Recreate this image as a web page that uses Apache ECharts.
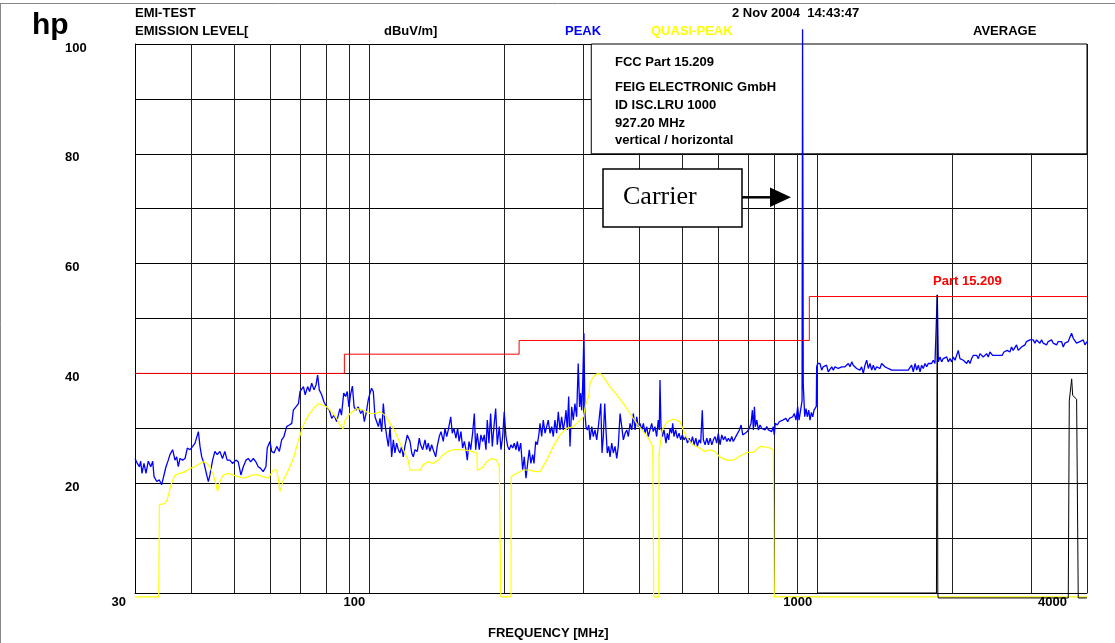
<!DOCTYPE html>
<html>
<head>
<meta charset="utf-8">
<script src="https://cdn.jsdelivr.net/npm/echarts@6/dist/echarts.min.js"></script>
<style>
html, body { margin: 0; padding: 0; background: #fff; }
#main { width: 1115px; height: 643px; }
</style>
</head>
<body>
<div id="main"></div>
<script>
// frequency axis (MHz, log) and level axis (dBuV/m)
const gridMHz = [40, 50, 60, 70, 80, 90, 100, 200, 300, 400, 500, 600, 700, 800, 900, 1000, 2000, 3000, 4000];
const xLabelMHz = [30, 100, 1000, 4000];
const yLabelDb = [20, 40, 60, 80, 100];

// FCC Part 15.209 limit (step)
const limitMHz = [30, 88, 216, 960, 4000];
const limitDb = [40, 43.5, 46, 54, 54];

// PEAK trace
const peakMHz = [
  30.0, 30.36, 30.67, 30.89, 31.1, 31.42, 31.74, 32.12, 32.53, 32.86, 33.08, 33.55, 33.99, 34.4, 34.7,
  35.18, 35.6, 35.9, 36.4, 36.85, 37.17, 37.47, 37.8, 38.33, 38.8, 39.26, 39.8, 40.36, 40.84, 41.55,
  41.9, 42.27, 42.78, 43.37, 43.73, 44.1, 44.7, 45.24, 45.77, 46.4, 47.03, 47.6, 48.17, 48.85, 49.5,
  50.43, 51.0, 51.7, 52.34, 53.07, 53.7, 54.35, 55.1, 55.84, 56.5, 57.2, 57.97, 58.8, 59.2, 60.03,
  60.56, 61.3, 62.15, 63.0, 63.75, 64.5, 65.4, 66.3, 67.15, 67.7, 68.6, 69.5, 70.05, 70.7, 71.3,
  71.95, 72.85, 73.6, 74.4, 75.3, 76.05, 76.7, 77.35, 78.3, 79.25, 80.35, 81.45, 82.45, 83.45, 84.6,
  86.0, 86.7, 87.7, 88.6, 89.3, 90.1, 90.8, 91.7, 92.5, 93.4, 94.5, 95.7, 96.7, 97.5, 98.4,
  99.5, 100.4, 101.2, 102.1, 103.0, 103.9, 104.8, 105.7, 106.6, 107.5, 108.4, 109.4, 110.3, 111.3, 112.2,
  113.2, 114.1, 115.1, 116.1, 117.1, 118.1, 119.1, 120.1, 121.6, 123.3, 124.4, 125.4, 126.5, 128.0, 129.3,
  130.2, 131.6, 133.2, 134.3, 135.4, 136.6, 137.8, 138.9, 140.7, 141.8, 143.3, 144.6, 146.3, 147.6, 148.9,
  150.1, 152.0, 153.2, 154.5, 156.1, 157.5, 158.7, 160.2, 161.6, 163.0, 164.4, 165.5, 167.0, 168.4, 170.1,
  171.6, 172.8, 174.2, 176.0, 177.5, 179.1, 180.6, 182.2, 183.4, 185.0, 186.6, 188.2, 189.8, 191.5, 193.1,
  195.1, 196.8, 198.5, 200.1, 201.9, 203.7, 205.4, 207.2, 209.0, 210.7, 212.6, 214.0, 215.9, 217.8, 220.0,
  221.8, 223.8, 225.7, 227.6, 229.5, 231.6, 233.2, 235.2, 237.2, 239.3,
  240.5, 242.6, 244.6, 246.8, 248.9, 250.9, 253.2, 255.4, 257.5, 259.7, 262.0, 264.2, 266.5, 268.8, 271.0,
  273.4, 274.9, 276.7, 278.7, 280.6, 283.0, 285.4, 287.8, 290.3, 292.7, 294.8, 296.4, 297.9, 299.4, 301.4,
  303.0, 304.6, 306.7, 309.0, 311.0, 313.8, 316.3, 319.0, 321.9, 324.6, 326.3, 328.7, 330.8, 333.0, 335.4,
  337.6, 339.8, 342.3, 344.7, 347.7, 350.6, 353.7, 356.8, 359.6, 362.9, 366.1, 369.1, 372.4, 375.6, 378.7,
  382.0, 385.4, 388.6, 392.0, 395.4, 398.6, 402.1, 405.7, 409.1, 412.6, 416.2, 419.6, 423.3, 427.0, 430.5,
  434.3, 438.0, 441.6, 444.0, 445.6, 447.9, 451.0, 454.9, 459.5, 462.7, 466.0, 469.2, 473.3, 475.7, 478.8,
  483.0, 487.1, 491.4, 495.7, 499.7, 504.3, 508.9, 513.2, 517.7, 522.3, 526.6, 531.2, 535.8, 540.1, 544.7,
  549.2, 553.8, 556.8, 561.8, 566.9, 571.6, 576.6, 581.7, 586.4, 591.4, 596.4, 601.3, 606.7, 612.2, 617.3,
  622.7, 628.2, 633.3, 638.8, 644.2, 649.4,
  661.1, 670.1, 676.0, 681.9, 689.9, 697.9, 705.2, 711.6, 716.4, 720.1, 723.9, 727.6, 732.8, 738.8, 745.1,
  751.6, 757.9, 764.7, 771.4, 777.8, 784.5, 791.3, 797.6, 801.7, 805.9, 814.4, 822.9, 830.1, 837.3, 844.1,
  851.4, 859.0, 866.2, 873.9, 881.5, 888.7, 896.4, 904.3, 910.5, 918.6, 924.8, 927.2, 930.5, 937.6, 943.8,
  950.0, 957.0, 963.5, 970.0, 977.0, 983.5, 990.0, 995.0, 997.0, 1002, 1005, 1014, 1023, 1031, 1040,
  1049, 1058, 1067, 1077, 1086, 1095, 1105, 1114, 1124, 1134, 1143, 1153, 1163, 1173, 1183,
  1194, 1203, 1214, 1224, 1234, 1245, 1256, 1267, 1278, 1289, 1300, 1311, 1323, 1334, 1345,
  1357, 1368, 1380, 1392, 1404, 1416, 1429, 1440, 1453, 1466, 1478, 1491, 1504, 1516, 1530,
  1543, 1556, 1570, 1583, 1596, 1611, 1624, 1638, 1653, 1667, 1681, 1696, 1710, 1724, 1740,
  1755, 1769, 1784, 1800, 1815, 1831, 1847, 1853, 1863, 1879, 1895, 1911, 1928, 1945, 1961,
  1978, 1995, 2012, 2030, 2047, 2064, 2082, 2100, 2118, 2136, 2155, 2173, 2192, 2211, 2230,
  2249, 2268, 2288, 2307, 2327, 2347, 2367, 2388, 2408, 2429, 2441, 2462, 2479, 2500, 2522,
  2544, 2565, 2587, 2610, 2632, 2655, 2668, 2691, 2714, 2737, 2761, 2785, 2809, 2833, 2857,
  2882, 2907, 2932, 2957, 2982, 3008, 3034, 3060, 3086, 3113, 3140, 3167, 3194, 3221, 3249,
  3277, 3305, 3334, 3362, 3391, 3421, 3450, 3480, 3510, 3540, 3570, 3601, 3632, 3663, 3695,
  3727, 3759, 3791, 3824, 3857, 3890, 3924, 3958, 4000
];
const peakDb = [
  24.5, 23.6, 23.0, 24.0, 21.8, 23.6, 21.8, 24.0, 23.0, 24.0, 21.2, 20.3, 20.6, 19.7, 20.0,
  23.0, 24.2, 25.2, 26.1, 24.2, 24.8, 23.0, 24.5, 24.2, 24.5, 26.4, 26.1, 26.7, 27.3, 29.4,
  26.7, 24.8, 23.6, 21.5, 20.3, 21.5, 24.2, 25.8, 25.2, 25.8, 24.5, 25.8, 24.2, 24.2, 23.6,
  24.2, 23.9, 21.5, 23.0, 24.2, 24.5, 23.9, 24.5, 23.9, 23.0, 22.7, 22.1, 23.0, 26.4, 27.6,
  25.8, 25.5, 26.7, 25.8, 27.9, 28.5, 30.3, 30.6, 30.9, 33.3, 33.9, 34.5, 36.7, 36.4, 37.6,
  36.1, 37.6, 36.7, 38.2, 37.0, 37.9, 39.7, 37.0, 36.1, 34.8, 33.9, 33.3, 31.8, 32.4, 31.2,
  33.6, 32.4, 36.4, 35.8, 36.7, 33.9, 36.1, 37.7, 33.9, 33.3, 33.9, 32.7, 33.3, 31.2, 32.7,
  35.2, 36.4, 37.3, 36.7, 32.1, 31.2, 30.3, 31.8, 29.4, 34.5, 30.9, 28.5, 26.7, 30.3, 24.8,
  27.9, 25.5, 27.3, 26.1, 25.5, 26.7, 24.8, 26.7, 28.8, 27.6, 25.5, 24.8, 26.1, 25.8, 28.2,
  27.0, 26.1, 27.9, 26.1, 27.3, 25.8, 27.0, 26.1, 24.8, 26.7, 28.5, 29.4, 27.6, 30.0, 28.5,
  29.7, 32.1, 29.1, 30.0, 28.2, 30.0, 27.6, 29.4, 26.4, 27.6, 26.1, 24.2, 27.6, 26.1, 29.1,
  32.7, 26.1, 29.1, 26.1, 28.8, 27.6, 28.8, 26.1, 31.5, 27.3, 32.7, 26.7, 30.3, 33.6, 27.0,
  30.3, 26.1, 28.5, 33.0, 28.5, 26.7, 26.1, 27.0, 26.4, 27.3, 26.1, 27.6, 25.8, 27.3, 22.4,
  24.8, 20.9, 23.6, 26.1, 23.6, 25.2, 23.6, 27.6, 27.0, 29.1,
  30.9, 28.5, 31.5, 29.1, 30.3, 31.5, 29.1, 30.3, 28.5, 31.5, 29.1, 33.0, 29.7, 32.1, 29.7,
  31.5, 33.3, 29.7, 35.8, 26.7, 33.9, 31.5, 34.5, 32.1, 41.8, 33.9, 36.4, 33.3, 37.6, 47.3,
  32.7, 30.3, 29.7, 30.6, 27.9, 30.3, 28.5, 29.7, 27.9, 30.3, 32.1, 34.5, 25.5, 28.5, 34.5,
  29.7, 25.5, 26.7, 24.8, 27.3, 25.5, 26.7, 24.5, 26.7, 32.7, 30.3, 27.9, 29.1, 29.7, 28.5,
  30.9, 29.7, 32.7, 29.7, 32.1, 30.3, 30.9, 29.7, 30.9, 29.1, 30.3, 28.5, 29.7, 30.9, 29.4,
  30.3, 28.5, 31.5, 29.7, 38.8, 30.3, 28.5, 29.7, 27.3, 29.1, 27.9, 30.0, 29.1, 30.9, 28.5,
  29.7, 28.2, 29.1, 27.9, 28.8, 27.9, 28.5, 27.3, 28.2, 27.3, 28.5, 27.0, 28.2, 26.7, 27.9,
  27.3, 33.3, 27.9, 27.0, 28.2, 27.0, 28.2, 27.0, 27.9, 28.5, 27.3, 29.1, 27.0, 28.8, 27.9,
  28.5, 27.6, 28.2, 27.6, 28.5, 27.6,
  28.8, 29.7, 30.6, 28.8, 29.1, 29.4, 30.0, 30.9, 33.3, 29.7, 33.9, 30.3, 31.5, 29.7, 30.6,
  30.0, 30.3, 29.7, 30.3, 29.7, 30.0, 29.4, 30.3, 28.8, 30.9, 30.6, 31.2, 30.9, 31.5, 31.2,
  31.8, 31.2, 31.8, 31.5, 32.1, 32.7, 31.5, 33.9, 31.5, 31.8, 35.0, 102.7, 38.0, 32.1, 33.6,
  32.1, 33.3, 31.5, 32.9, 32.1, 33.3, 33.6, 34.0, 41.2, 41.8, 41.5, 41.8, 40.6, 41.2, 40.9,
  41.5, 40.3, 40.0, 41.2, 40.6, 41.2, 41.5, 40.9, 40.6, 41.2, 40.9, 41.2, 41.5, 41.8, 41.2,
  42.1, 41.5, 41.8, 40.9, 41.2, 40.6, 41.2, 40.0, 41.5, 42.4, 40.9, 41.8, 40.6, 41.5, 40.6,
  41.2, 41.5, 40.9, 41.8, 41.5, 41.2, 41.5, 40.9, 41.2, 40.6, 40.3, 40.6, 40.3, 40.6, 40.3,
  40.6, 40.3, 40.6, 40.3, 40.6, 40.9, 41.5, 40.3, 41.8, 40.6, 41.5, 40.3, 41.5, 40.9, 41.8,
  41.2, 41.8, 41.5, 41.8, 42.4, 41.8, 42.1, 54.3, 42.1, 43.0, 42.1, 42.7, 42.4, 43.0, 42.1,
  42.7, 42.1, 43.0, 42.4, 42.7, 44.2, 42.7, 43.0, 42.4, 42.1, 41.8, 42.4, 41.8, 42.7, 43.3,
  43.0, 43.3, 42.7, 43.6, 43.3, 43.0, 43.3, 43.6, 43.0, 43.9, 44.2, 43.3, 43.6, 43.3, 43.6,
  43.3, 43.6, 43.3, 43.9, 43.6, 44.2, 44.5, 43.9, 44.8, 44.2, 44.5, 45.2, 44.2, 44.5, 44.8,
  44.5, 45.2, 45.8, 45.5, 46.1, 45.8, 46.1, 45.5, 46.1, 45.8, 45.5, 46.1, 45.5, 45.8, 45.2,
  45.8, 45.5, 46.1, 45.5, 45.8, 45.2, 45.8, 45.5, 45.8, 44.8, 45.5, 45.2, 45.8, 46.1, 47.3,
  46.4, 46.1, 45.5, 45.2, 45.8, 45.5, 46.1, 45.2, 45.8
];

// QUASI-PEAK trace
const qpMHz = [
  30, 33.9, 34.0, 35.0, 35.4, 36.2, 36.85, 37.8, 38.8, 39.8, 40.84, 41.9, 42.6, 43.37, 44.1,
  44.85, 45.45, 45.85, 46.4, 47.2, 48.4, 49.65, 51.0, 52.34, 53.7, 55.1, 56.5, 57.97, 59.5, 60.0,
  61.1, 62.15, 62.7, 63.2, 64.3, 66.0, 67.7, 69.5, 71.3, 73.2, 75.1, 77.0, 78.7, 80.35, 82.45,
  84.6, 85.5, 87.4, 88.3, 90.6, 93.8, 97.1, 100.4, 103.0, 105.7, 108.4, 111.3, 114.1, 117.1, 120.1,
  122.1, 123.3, 126.5, 130.2, 131.6, 135.4, 138.9, 142.5, 146.3, 150.1, 154.0, 159.4, 165.0, 169.2, 173.9,
  174.2, 178.2, 182.8, 187.5, 192.4, 195.1, 196.6, 207.2, 207.4, 213.5, 220.5, 228.2, 234.4, 240.5, 248.9,
  257.5, 266.5, 275.8, 285.4, 295.4, 300.4, 304.6, 309.0, 311.0, 316.3, 321.9, 328.7, 334.8, 344.7, 356.8,
  369.1, 382.0, 395.4, 409.1, 419.6, 429.4, 431.5, 443.0, 443.5, 450.5, 462.1, 477.6, 493.9, 509.2, 527.4,
  545.8, 560.1, 574.9, 589.7, 605.6, 627.4, 649.4, 673.5, 697.9, 720.1, 745.1, 777.8, 797.6, 801.7, 4000
];
const qpDb = [
  -0.7, -0.7, 16.1, 16.3, 17.0, 20.0, 21.5, 21.8, 22.1, 22.7, 23.0, 23.6, 23.9, 23.6, 23.0,
  21.5, 20.0, 18.5, 20.3, 21.5, 21.8, 21.5, 21.2, 20.9, 21.2, 21.5, 21.5, 21.2, 20.9, 20.6,
  22.4, 22.4, 20.6, 18.5, 20.6, 22.4, 24.5, 27.9, 30.6, 32.4, 33.6, 34.5, 34.2, 33.9, 33.0,
  31.8, 31.0, 29.9, 31.5, 32.7, 33.6, 33.3, 32.7, 32.7, 33.0, 32.4, 30.9, 29.4, 27.3, 25.5,
  24.2, 22.4, 22.4, 22.4, 23.3, 23.9, 23.6, 24.2, 25.2, 25.8, 26.1, 26.1, 26.0, 25.8, 25.5,
  22.4, 22.7, 23.9, 24.5, 24.2, 23.0, -0.7, -0.7, 21.2, 21.8, 22.4, 22.4, 22.1, 22.1, 24.2,
  26.7, 28.8, 30.0, 30.3, 31.5, 32.1, 34.5, 35.8, 38.2, 39.4, 39.9, 39.9, 39.1, 37.6, 36.1,
  34.5, 32.7, 30.9, 29.4, 28.2, 26.7, -0.7, -0.7, 25.5, 29.7, 31.2, 31.7, 31.2, 28.5, 27.0,
  26.4, 25.8, 26.1, 25.8, 24.8, 24.2, 24.2, 25.0, 25.6, 25.6, 26.7, 26.5, 26.1, -0.7, -0.7
];

// AVERAGE trace (above 1 GHz)
const avgMHz = [1000, 1845, 1853, 1858, 1862, 3633, 3652, 3697, 3716, 3792, 3824, 4000];
const avgDb = [0, 0, 54.3, 0, -0.9, -0.9, 35.0, 39.0, 36.0, 35.3, -0.9, -0.9];

// header box position in data units
const boxMHz = [313, 4000];
const boxDb = [80, 100];

const FONT = '"Liberation Sans", Arial, sans-serif';

function zip(xs, ys) {
    return xs.map(function (x, i) { return [x, ys[i]]; });
}

function label(id, text, x, y, extra) {
    return {
        type: 'text', id: id, x: x, y: y, silent: true, z: 50,
        style: Object.assign({
            text: text, fill: '#000',
            fontSize: 13, fontWeight: 'bold', fontFamily: FONT,
            align: 'left', verticalAlign: 'middle'
        }, extra || {})
    };
}

const chart = echarts.init(document.getElementById('main'), null, { renderer: 'canvas' });

const option = {
    animation: false,
    backgroundColor: '#fff',
    grid: { left: 135, right: 28, top: 44, bottom: 50 },
    xAxis: {
        type: 'log',
        logBase: 10,
        min: 30,
        max: 4000,
        axisLine: { show: true, lineStyle: { color: '#000', width: 1 } },
        axisTick: { show: false },
        axisLabel: { show: false },
        splitLine: { show: false }
    },
    yAxis: {
        type: 'value',
        min: 0,
        max: 100,
        interval: 10,
        axisLine: { show: true, lineStyle: { color: '#000', width: 1 } },
        axisTick: { show: false },
        axisLabel: {
            align: 'left',
            verticalAlign: 'top',
            lineHeight: 8,
            margin: 70,
            color: '#000',
            fontWeight: 'bold',
            fontSize: 13,
            fontFamily: FONT,
            formatter: function (v) { return yLabelDb.indexOf(v) >= 0 ? String(v) : ''; }
        },
        splitLine: { show: true, lineStyle: { color: '#000', width: 1 } }
    },
    series: [
        {
            // vertical grid lines
            type: 'line',
            data: [],
            silent: true,
            z: 1,
            markLine: {
                z: 1,
                silent: true,
                symbol: ['none', 'none'],
                label: { show: false },
                lineStyle: { color: '#222', width: 1, type: 'solid' },
                emphasis: { disabled: true },
                data: gridMHz.map(function (f) {
                    return [{ coord: [f, 0] }, { coord: [f, 100] }];
                })
            }
        },
        {
            // header info box
            type: 'line',
            data: [],
            silent: true,
            z: 2,
            markArea: {
                z: 2,
                silent: true,
                itemStyle: { color: '#fff', borderColor: '#000', borderWidth: 1 },
                emphasis: { disabled: true },
                data: [[{ coord: [boxMHz[0], boxDb[0]] }, { coord: [boxMHz[1], boxDb[1]] }]]
            }
        },
        {
            name: 'PEAK',
            type: 'line',
            data: zip(peakMHz, peakDb),
            showSymbol: false,
            symbol: 'none',
            clip: false,
            z: 3,
            lineStyle: { color: '#0000ff', width: 1.3 }
        },
        {
            name: 'Part 15.209',
            type: 'line',
            step: 'end',
            data: zip(limitMHz, limitDb),
            showSymbol: false,
            symbol: 'none',
            z: 4,
            lineStyle: { color: '#ff0000', width: 1 }
        },
        {
            name: 'QUASI-PEAK',
            type: 'line',
            data: zip(qpMHz, qpDb),
            showSymbol: false,
            symbol: 'none',
            clip: false,
            z: 5,
            lineStyle: { color: '#ffff00', width: 1.2 }
        },
        {
            name: 'AVERAGE',
            type: 'line',
            data: zip(avgMHz, avgDb),
            showSymbol: false,
            symbol: 'none',
            clip: false,
            z: 6,
            lineStyle: { color: '#000', width: 1 }
        }
    ]
};

chart.setOption(option);

// texts around the plot
const graphics = [
    { type: 'line', id: 'frameTop', silent: true, shape: { x1: 0, y1: 3.5, x2: 1115, y2: 3.5 }, style: { stroke: '#888', lineWidth: 1 } },
    { type: 'line', id: 'frameLeft', silent: true, shape: { x1: 0.5, y1: 3.5, x2: 0.5, y2: 643 }, style: { stroke: '#888', lineWidth: 1 } },
    label('hp', 'hp', 32, 26, { fontSize: 30 }),
    label('t1', 'EMI-TEST', 135, 13),
    label('t2', 'EMISSION LEVEL[', 135, 31),
    label('t3', 'dBuV/m]', 384, 31),
    label('t4', 'PEAK', 565, 31, { fill: '#0000ff' }),
    label('t5', 'QUASI-PEAK', 651, 31, { fill: '#ffff00' }),
    label('t6', '2 Nov 2004  14:43:47', 732, 13),
    label('t7', 'AVERAGE', 973, 31),
    label('b1', 'FCC Part 15.209', 615, 62),
    label('b2', 'FEIG ELECTRONIC GmbH', 615, 87),
    label('b3', 'ID ISC.LRU 1000', 615, 105),
    label('b4', '927.20 MHz', 615, 123),
    label('b5', 'vertical / horizontal', 615, 140),
    label('lim', 'Part 15.209', 933, 281, { fill: '#ff0000' }),
    label('xname', 'FREQUENCY [MHz]', 488, 633),
    // carrier annotation
    { type: 'rect', id: 'cbox', silent: true, z: 50, shape: { x: 603, y: 169, width: 139, height: 58 }, style: { fill: '#fff', stroke: '#000', lineWidth: 1.5 } },
    label('ctext', 'Carrier', 623, 197, { fontSize: 26, fontWeight: 'normal', fontFamily: '"Liberation Serif", "Times New Roman", serif' }),
    { type: 'line', id: 'carrow', silent: true, z: 50, shape: { x1: 742, y1: 197.3, x2: 772, y2: 197.3 }, style: { stroke: '#000', lineWidth: 2.5 } },
    { type: 'polygon', id: 'chead', silent: true, z: 50, shape: { points: [[770, 187.5], [791, 197.3], [770, 207]] }, style: { fill: '#000' } }
];

// frequency tick labels placed through the log scale
const labelShift = { 30: 9, 100: 4, 1000: 5, 4000: 20 };
xLabelMHz.forEach(function (f) {
    const p = chart.convertToPixel({ gridIndex: 0 }, [f, 0]);
    graphics.push(label('x' + f, String(f), p[0] - labelShift[f], p[1] + 9, { align: 'right' }));
});

chart.setOption({ graphic: graphics });
</script>
</body>
</html>
